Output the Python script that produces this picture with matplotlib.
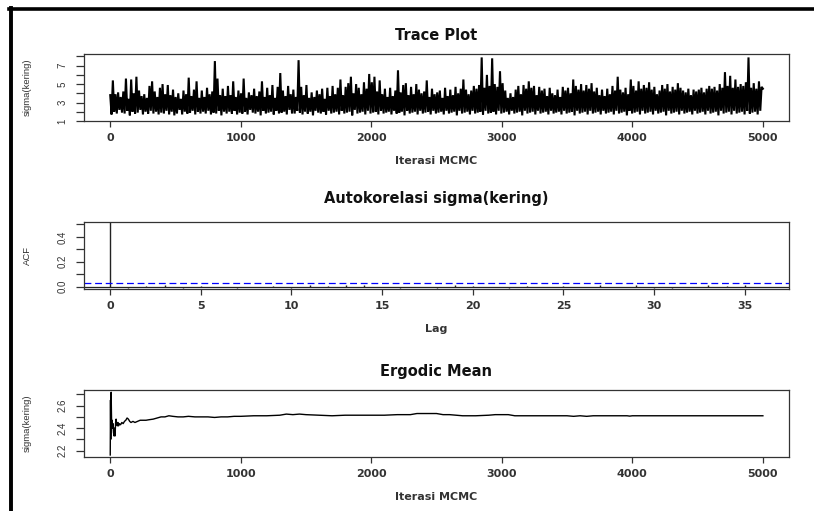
import numpy as np
import matplotlib
matplotlib.use("Agg")
from matplotlib import pyplot as plt
from matplotlib.lines import Line2D
from matplotlib.ticker import FixedLocator

# trace of sigma(kering), read every ~10 iterations off the picture
trace = [
    3.8, 1.7, 5.4, 2.0, 3.9, 1.8, 4.1, 2.2, 3.6, 1.9,
    4.2, 1.8, 5.6, 2.1, 3.4, 1.6, 5.5, 2.0, 4.0, 1.8,
    5.8, 1.9, 4.3, 2.2, 3.7, 1.7, 3.9, 2.0, 3.5, 1.8,
    4.8, 2.1, 5.3, 1.8, 4.2, 2.0, 3.6, 1.7, 4.6, 1.9,
    5.0, 1.8, 3.9, 2.1, 4.9, 1.7, 3.8, 2.0, 4.4, 1.6,
    3.6, 1.8, 4.0, 2.2, 3.4, 1.7, 4.3, 2.0, 3.9, 1.8,
    5.7, 1.9, 3.7, 2.1, 4.4, 1.7, 5.3, 2.0, 3.5, 1.8,
    4.3, 2.0, 3.6, 1.8, 4.6, 2.1, 3.9, 1.7, 4.2, 1.9,
    7.5, 1.8, 5.6, 2.1, 3.8, 1.6, 4.5, 2.0, 3.7, 1.8,
    4.8, 2.0, 3.8, 1.8, 5.3, 2.1, 3.6, 1.7, 4.3, 1.9,
    4.0, 1.8, 5.6, 2.0, 3.5, 1.7, 4.1, 2.2, 3.8, 1.9,
    4.5, 1.8, 3.7, 2.0, 4.2, 1.6, 5.3, 2.1, 3.6, 1.8,
    4.6, 1.9, 3.8, 2.0, 4.9, 1.7, 3.5, 2.1, 4.7, 1.8,
    6.2, 1.9, 4.3, 2.0, 3.7, 1.7, 4.8, 2.2, 3.9, 1.8,
    4.4, 1.8, 3.6, 2.1, 7.6, 1.9, 4.7, 1.7, 3.8, 2.0,
    4.9, 1.8, 3.5, 2.0, 4.1, 1.6, 3.6, 2.1, 4.3, 1.9,
    3.9, 1.8, 4.5, 2.0, 3.4, 1.7, 4.6, 2.1, 3.7, 1.8,
    4.8, 1.9, 3.9, 2.0, 4.6, 1.7, 5.5, 2.1, 3.8, 1.8,
    4.7, 1.9, 5.1, 2.0, 5.8, 1.6, 4.0, 2.2, 5.0, 1.8,
    4.6, 1.9, 3.9, 2.0, 5.2, 1.7, 4.5, 2.1, 6.1, 1.8,
    5.2, 1.9, 5.8, 2.0, 4.2, 1.7, 5.4, 2.1, 3.9, 1.8,
    4.5, 1.9, 3.6, 2.0, 4.6, 1.7, 3.7, 2.1, 4.3, 1.8,
    6.5, 1.9, 4.1, 2.0, 4.9, 1.6, 5.1, 2.1, 3.8, 1.8,
    4.7, 1.9, 3.9, 2.0, 5.0, 1.7, 4.4, 2.1, 4.0, 1.8,
    4.2, 1.9, 5.4, 2.0, 3.6, 1.7, 4.5, 2.1, 3.9, 1.8,
    4.1, 1.9, 4.3, 2.0, 3.5, 1.7, 4.6, 2.1, 3.7, 1.8,
    4.4, 1.9, 3.8, 2.0, 4.7, 1.6, 4.0, 2.1, 4.5, 1.8,
    5.5, 1.9, 4.4, 2.0, 3.9, 1.7, 4.3, 2.1, 4.8, 1.8,
    4.5, 1.9, 4.9, 2.0, 7.9, 1.7, 4.6, 2.1, 6.0, 1.8,
    4.8, 1.9, 7.8, 2.0, 5.0, 1.7, 4.7, 2.1, 6.4, 1.8,
    5.1, 1.9, 4.3, 2.0, 3.5, 1.7, 4.0, 2.1, 3.6, 1.8,
    4.4, 1.9, 4.8, 2.0, 3.9, 1.6, 4.9, 2.1, 4.5, 1.8,
    5.3, 1.9, 4.6, 2.0, 4.8, 1.7, 3.8, 2.1, 4.7, 1.8,
    4.3, 1.9, 4.5, 2.0, 3.7, 1.7, 4.6, 2.1, 4.0, 1.8,
    3.8, 1.9, 4.4, 2.0, 3.6, 1.7, 4.7, 2.1, 4.3, 1.8,
    4.6, 1.9, 4.0, 2.0, 5.5, 1.6, 4.8, 2.1, 4.4, 1.8,
    5.0, 1.9, 4.3, 2.0, 4.9, 1.7, 4.5, 2.1, 5.1, 1.8,
    4.2, 1.9, 4.6, 2.0, 3.8, 1.7, 4.4, 2.1, 3.7, 1.8,
    4.5, 1.9, 3.9, 2.0, 4.8, 1.7, 4.3, 2.1, 5.8, 1.8,
    4.4, 1.9, 4.1, 2.0, 4.6, 1.6, 3.9, 2.1, 5.5, 1.8,
    4.8, 1.9, 4.3, 2.0, 5.3, 1.7, 4.5, 2.1, 4.9, 1.8,
    4.6, 1.9, 5.2, 2.0, 4.4, 1.7, 4.7, 2.1, 3.9, 1.8,
    4.3, 1.9, 4.9, 2.0, 4.5, 1.6, 5.0, 2.1, 4.2, 1.8,
    4.7, 1.9, 4.4, 2.0, 5.1, 1.7, 4.6, 2.1, 4.3, 1.8,
    4.1, 1.9, 4.5, 2.0, 3.8, 1.7, 4.4, 2.1, 4.2, 1.8,
    4.4, 1.9, 4.6, 2.0, 4.1, 1.7, 4.5, 2.1, 4.8, 1.8,
    4.5, 1.9, 4.7, 2.0, 4.3, 1.6, 5.0, 2.1, 4.6, 1.8,
    6.3, 1.9, 4.8, 2.0, 5.9, 1.7, 4.6, 2.1, 5.5, 1.8,
    4.7, 1.9, 5.0, 2.0, 4.8, 1.7, 5.2, 2.1, 7.9, 1.8,
    4.6, 1.9, 5.1, 2.0, 4.5, 1.7, 5.3, 2.1, 4.7, 4.5,
]

# autocorrelation by lag
lags = list(range(37))
acf = [1.0, -0.008, 0.002, 0.012, -0.010, 0.001, -0.003, -0.009, -0.006, 0.003,
       -0.010, 0.013, 0.002, 0.011, 0.010, -0.002, -0.009, -0.007, -0.008, 0.012,
       0.004, -0.006, -0.008, 0.002, -0.004, 0.003, -0.007, 0.011, -0.006, 0.012,
       -0.008, -0.010, -0.006, 0.011, 0.002, 0.010, -0.004]
conf_band = 0.028

# ergodic (running) mean
erg_iter = [1, 3, 5, 8, 10, 12, 15, 18, 22, 26, 30, 34, 38, 42, 46, 50, 55, 60, 65, 70,
            80, 90, 100, 110, 120, 130, 140, 150, 160, 175, 190, 210, 230, 250, 275, 300,
            330, 360, 390, 420, 450, 480, 520, 560, 600, 650, 700, 750, 800, 850, 900, 950,
            1000, 1100, 1200, 1300, 1350, 1400, 1450, 1500, 1600, 1700, 1800, 1900, 2000,
            2100, 2200, 2300, 2350, 2400, 2500, 2550, 2600, 2700, 2800, 2900, 2950, 3000,
            3050, 3100, 3200, 3300, 3400, 3500, 3550, 3600, 3650, 3700, 3750, 3800, 3900,
            3960, 3980, 4000, 4200, 4400, 4600, 4800, 5000]
erg_mean = [2.16, 2.65, 2.30, 2.72, 2.55, 2.42, 2.47, 2.40, 2.44, 2.36, 2.33, 2.40, 2.33,
            2.45, 2.48, 2.44, 2.42, 2.45, 2.42, 2.44, 2.43, 2.45, 2.44, 2.46, 2.47, 2.49,
            2.48, 2.46, 2.45, 2.46, 2.45, 2.46, 2.47, 2.47, 2.47, 2.475, 2.48, 2.49, 2.50,
            2.50, 2.51, 2.505, 2.50, 2.50, 2.505, 2.50, 2.50, 2.50, 2.495, 2.50, 2.50, 2.505,
            2.505, 2.51, 2.51, 2.515, 2.525, 2.52, 2.525, 2.52, 2.515, 2.51, 2.515, 2.515,
            2.515, 2.515, 2.52, 2.52, 2.53, 2.53, 2.53, 2.52, 2.52, 2.51, 2.51, 2.515, 2.52,
            2.52, 2.52, 2.51, 2.51, 2.51, 2.51, 2.51, 2.505, 2.51, 2.505, 2.51, 2.51, 2.51,
            2.51, 2.51, 2.507, 2.51, 2.51, 2.51, 2.51, 2.51, 2.51]

iters = np.linspace(1, 5000, len(trace))

GREY = "#333333"
W, H = 814, 511


def set_ylabels(ax, texts):
    ax.set_yticklabels(texts)
    for lab in ax.get_yticklabels():
        lab.set_fontfamily("Liberation Sans")
        lab.set_va("center")


def r_axes(rect_px, xlim, ylim, xticks, yticks, ytexts, yminor):
    l, t, r, b = rect_px
    ax = fig.add_axes([l / W, 1 - b / H, (r - l) / W, (b - t) / H])
    ax.set_xlim(*xlim)
    ax.set_ylim(*ylim)
    for s in ax.spines.values():
        s.set_color(GREY)
        s.set_linewidth(0.9)
    ax.set_xticks(xticks)
    ax.set_xticklabels([str(v) for v in xticks])
    ax.set_yticks(yticks)
    ax.yaxis.set_minor_locator(FixedLocator(yminor))
    ax.tick_params(axis="x", length=4.3, width=0.9, color=GREY, pad=4, labelsize=8,
                   labelcolor=GREY)
    ax.tick_params(axis="y", which="both", length=6, width=0.9, color=GREY, pad=6,
                   labelsize=7, labelcolor=GREY, labelrotation=90)
    for lab in ax.get_xticklabels():
        lab.set_fontfamily("DejaVu Sans")
        lab.set_fontweight("bold")
    set_ylabels(ax, ytexts)
    return ax


def labels(ax, title, xlabel, ylabel, hpx, tpad=10):
    ax.set_title(title, fontsize=10.5, fontweight="bold", family="DejaVu Sans",
                 color="#111111", pad=tpad)
    ax.set_xlabel(xlabel, fontsize=8, fontweight="bold", family="DejaVu Sans",
                  color=GREY, va="center")
    ax.xaxis.set_label_coords(0.5, -39.5 / hpx)
    ax.set_ylabel(ylabel, fontsize=6.8, family="Liberation Sans", color=GREY, va="center")
    ax.yaxis.set_label_coords((27 - 84) / 705, 0.5)


fig = plt.figure(figsize=(W / 100, H / 100), dpi=100)
fig.patch.set_facecolor("white")

# Trace plot
ax1 = r_axes((84, 54, 789, 121), (-200, 5200), (0.99, 8.27),
             [0, 1000, 2000, 3000, 4000, 5000], [1, 3, 5, 7], ["1", "3", "5", "7"],
             [2, 4, 6, 8])
ax1.plot(iters, trace, color="black", lw=1.5, solid_joinstyle="miter")
labels(ax1, "Trace Plot", "Iterasi MCMC", "sigma(kering)", 67)

# ACF
ax2 = r_axes((84, 222, 789, 289), (-1.44, 37.44), (-0.02, 0.52),
             [0, 5, 10, 15, 20, 25, 30, 35], [0.0, 0.2, 0.4], ["0.0", "0.2", "0.4"],
             [0.1, 0.3, 0.5])
ax2.vlines(lags, 0, acf, color="#222222", lw=1.0)
ax2.axhline(0, color="#222222", lw=0.9)
ax2.axhline(conf_band, color="#0000ff", lw=0.9, ls=(0, (5.5, 3)))
ax2.axhline(-conf_band, color="#0000ff", lw=0.9, ls=(0, (5.5, 3)))
labels(ax2, "Autokorelasi sigma(kering)", "Lag", "ACF", 67, tpad=14)

# Ergodic mean
ax3 = r_axes((84, 390, 789, 457), (-200, 5200), (2.142, 2.74),
             [0, 1000, 2000, 3000, 4000, 5000], [2.2, 2.4, 2.6], ["2.2", "2.4", "2.6"],
             [2.3, 2.5, 2.7])
ax3.plot(erg_iter, erg_mean, color="black", lw=1.0)
labels(ax3, "Ergodic Mean", "Iterasi MCMC", "sigma(kering)", 67)

# black frame on top and left edge of the screenshot
fig.add_artist(Line2D([9 / W, 1], [1 - 9.5 / H, 1 - 9.5 / H], color="black", lw=2.6,
                      transform=fig.transFigure))
fig.add_artist(Line2D([11 / W, 11 / W], [0, 1 - 8 / H], color="black", lw=2.8,
                      transform=fig.transFigure))

fig.savefig("out.png", dpi=100)
